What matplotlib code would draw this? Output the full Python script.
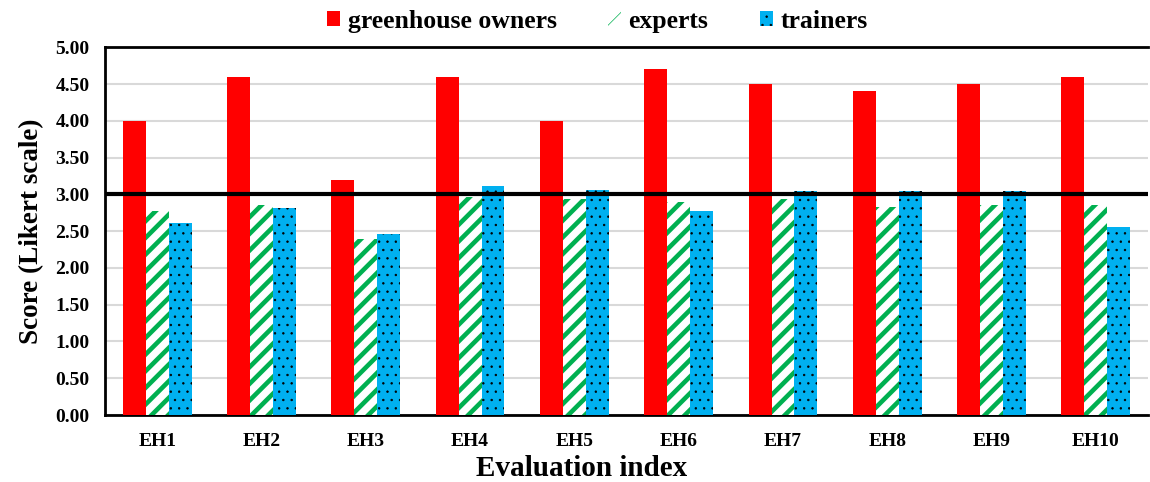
import numpy as np
from matplotlib import pyplot as plt
from matplotlib.ticker import FormatStrFormatter

# Datos del gráfico
categories = ["EH1", "EH2", "EH3", "EH4", "EH5", "EH6", "EH7", "EH8", "EH9", "EH10"]
owners = [4.00, 4.60, 3.20, 4.60, 4.00, 4.70, 4.50, 4.40, 4.50, 4.60]
experts = [2.77, 2.85, 2.39, 2.97, 2.93, 2.89, 2.93, 2.83, 2.85, 2.86]
trainers = [2.61, 2.82, 2.46, 3.11, 3.06, 2.77, 3.05, 3.05, 3.05, 2.55]
reference_score = 3.0

plt.rcParams['font.family'] = ['Liberation Serif', 'DejaVu Serif']
plt.rcParams['font.weight'] = 'bold'

fig = plt.figure(figsize=(11.5, 4.82), dpi=100)
ax = fig.add_axes([0.0913, 0.139, 0.907, 0.763])

x = np.arange(len(categories))
w = 0.22

ax.bar(x - w, owners, w, color='#FF0000', linewidth=0, label='greenhouse owners', zorder=3)

# el grosor del rayado se toma al crear cada barra
plt.rcParams['hatch.linewidth'] = 3.3
ax.bar(x, experts, w, facecolor='white', edgecolor='#00B050', hatch='//', linewidth=0,
       label='experts', zorder=3)

plt.rcParams['hatch.linewidth'] = 0.5
ax.bar(x + w, trainers, w, facecolor='#00B0F0', edgecolor='black', hatch='..', linewidth=0,
       label='trainers', zorder=3)

ax.axhline(reference_score, color='black', linewidth=3, zorder=4)

ax.set_xlim(-0.5, len(categories) - 0.5)
ax.set_ylim(0, 5)
ax.set_yticks(np.arange(0, 5.01, 0.5))
ax.yaxis.set_major_formatter(FormatStrFormatter('%.2f'))
ax.set_xticks(x)
ax.set_xticklabels(categories)
ax.tick_params(axis='both', length=0, labelsize=14)
ax.tick_params(axis='x', pad=13)
ax.tick_params(axis='y', pad=11)
ax.grid(axis='y', color='#D9D9D9', linewidth=1.5, zorder=0)
ax.set_axisbelow(True)

for side in ['left', 'bottom', 'top']:
    ax.spines[side].set_linewidth(2)
    ax.spines[side].set_color('black')
ax.spines['right'].set_visible(False)

ax.set_ylabel("Score (Likert scale)", fontsize=19.5, fontweight='bold', labelpad=8)
ax.set_xlabel("Evaluation index", fontsize=21, fontweight='bold')
ax.xaxis.set_label_coords(0.457, -0.108)

ax.legend(loc='lower center', bbox_to_anchor=(0.472, 1.012), ncol=3, frameon=False,
          prop={'size': 18.5, 'weight': 'bold'}, handlelength=0.5, handleheight=0.5,
          handletextpad=0.3, columnspacing=2.0, borderaxespad=0.0)

plt.savefig("out.png", dpi=100)
